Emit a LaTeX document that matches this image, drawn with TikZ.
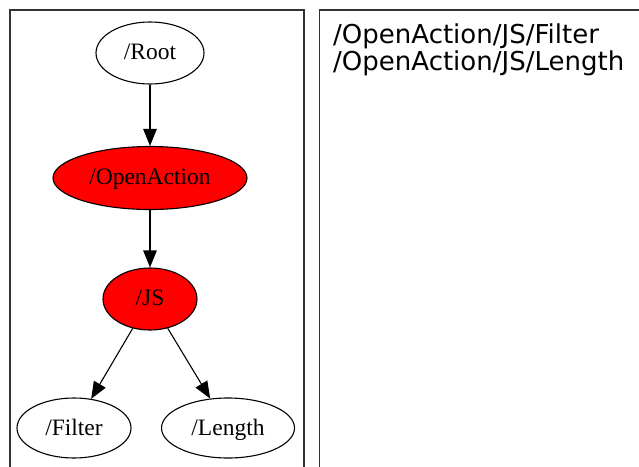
\documentclass[tikz,border=0pt]{standalone}
\usepackage{fontspec}
\setmainfont{Liberation Serif}
\newfontfamily\pathfont{DejaVu Sans}
\usetikzlibrary{shapes.geometric,arrows.meta}
\begin{document}
\begin{tikzpicture}[x=1pt,y=-1pt,
  panel/.style={draw=black!80, line width=1.3pt},
  obj/.style={ellipse, draw, line width=1.1pt, inner sep=0pt,
              font=\fontsize{23.5}{25}\selectfont, text depth=2pt},
  hot/.style={obj, fill=red},
  link/.style={line width=1.1pt, -{Triangle[length=17pt,width=13.5pt]}},
  pathline/.style={anchor=base west, inner sep=0pt,
                   font=\pathfont\fontsize{26}{28}\selectfont}]
\useasboundingbox (0,0) rectangle (639,466);
\begin{scope}
\clip (0,0) rectangle (639,466);
% the two panels, running off the bottom and right edges
\draw[panel] (10,480) -- (10,10) -- (304,10) -- (304,480);
\draw[panel] (319.5,480) -- (319.5,10) -- (660,10);
\end{scope}
% object tree
\node[obj, minimum width=108pt, minimum height=62pt] (root) at (150,53) {/Root};
\node[hot, minimum width=194pt, minimum height=63pt] (oa) at (150,178) {/OpenAction};
\node[hot, minimum width=94pt, minimum height=62pt] (js) at (150,299) {/JS};
\node[obj, minimum width=114pt, minimum height=60pt] (filter) at (74,428) {/Filter};
\node[obj, minimum width=133pt, minimum height=60pt] (length) at (228,428) {/Length};
\draw[link] (root) -- (oa);
\draw[link] (oa) -- (js);
\draw[link] (js) -- (filter);
\draw[link] (js) -- (length);
% paths listed in the right panel
\node[pathline] (p1) at (333,43) {/OpenAction/JS/Filter};
\node[pathline] (p2) at (333,70) {/OpenAction/JS/Length};
\end{tikzpicture}
\end{document}
